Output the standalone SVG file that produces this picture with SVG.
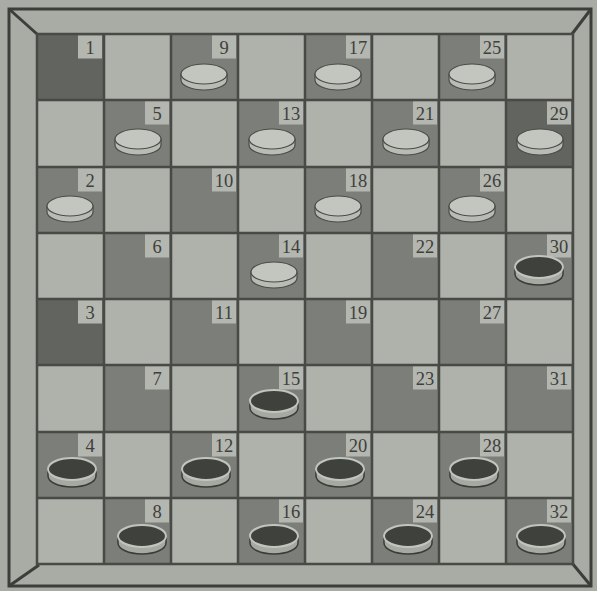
<svg xmlns="http://www.w3.org/2000/svg" xmlns:xlink="http://www.w3.org/1999/xlink" width="597" height="591" viewBox="0 0 597 591">
<defs>
<style>
.bg{fill:#a9aba5}
.light{fill:#afb1ab}
.dark{fill:#7c7e7a}
.darker{fill:#626460}
.frame{fill:none;stroke:#3c3e3a;stroke-width:3}
.grid{fill:none;stroke:#484a46;stroke-width:2.5}
.lb{fill:#b4b6b0}
.num{font-family:"Liberation Serif","Times New Roman",serif;font-size:18.5px;fill:#3e403c;text-anchor:middle}
</style>
<g id="wp">
<path d="M-23,0 v6 a23,10 0 0 0 46,0 v-6 z" fill="#b9bbb5" stroke="#4a4c48" stroke-width="1.2"/>
<ellipse cx="0" cy="0" rx="23" ry="10" fill="#c3c5bf" stroke="#4a4c48" stroke-width="1.2"/>
</g>
<g id="bp">
<path d="M-24,0 v7 a24,11 0 0 0 48,0 v-7 z" fill="#a6a8a2" stroke="#3a3c38" stroke-width="1.5"/>
<ellipse cx="0" cy="0" rx="24" ry="11" fill="#3f413d" stroke="#c2c4be" stroke-width="2"/>
</g>
</defs>
<rect class="bg" x="0" y="0" width="597" height="591"/>
<g id="frame">
<rect class="frame" x="9" y="9" width="582" height="577"/>
<line class="frame" x1="9" y1="9" x2="37" y2="34"/>
<line class="frame" x1="591" y1="9" x2="572" y2="34"/>
<line class="frame" x1="9" y1="586" x2="39" y2="565"/>
<line class="frame" x1="591" y1="586" x2="572" y2="563"/>
</g>
<g id="board">
<rect class="light" x="37" y="34" width="536" height="530"/>
<g id="dark-squares">
<rect class="darker" x="37" y="34" width="67" height="66"/>
<rect class="dark" x="171" y="34" width="67" height="66"/>
<rect class="dark" x="305" y="34" width="67" height="66"/>
<rect class="dark" x="439" y="34" width="67" height="66"/>
<rect class="dark" x="104" y="100" width="67" height="67"/>
<rect class="dark" x="238" y="100" width="67" height="67"/>
<rect class="dark" x="372" y="100" width="67" height="67"/>
<rect class="darker" x="506" y="100" width="67" height="67"/>
<rect class="dark" x="37" y="167" width="67" height="66"/>
<rect class="dark" x="171" y="167" width="67" height="66"/>
<rect class="dark" x="305" y="167" width="67" height="66"/>
<rect class="dark" x="439" y="167" width="67" height="66"/>
<rect class="dark" x="104" y="233" width="67" height="66"/>
<rect class="dark" x="238" y="233" width="67" height="66"/>
<rect class="dark" x="372" y="233" width="67" height="66"/>
<rect class="dark" x="506" y="233" width="67" height="66"/>
<rect class="darker" x="37" y="299" width="67" height="66"/>
<rect class="dark" x="171" y="299" width="67" height="66"/>
<rect class="dark" x="305" y="299" width="67" height="66"/>
<rect class="dark" x="439" y="299" width="67" height="66"/>
<rect class="dark" x="104" y="365" width="67" height="67"/>
<rect class="dark" x="238" y="365" width="67" height="67"/>
<rect class="dark" x="372" y="365" width="67" height="67"/>
<rect class="dark" x="506" y="365" width="67" height="67"/>
<rect class="dark" x="37" y="432" width="67" height="66"/>
<rect class="dark" x="171" y="432" width="67" height="66"/>
<rect class="dark" x="305" y="432" width="67" height="66"/>
<rect class="dark" x="439" y="432" width="67" height="66"/>
<rect class="dark" x="104" y="498" width="67" height="66"/>
<rect class="dark" x="238" y="498" width="67" height="66"/>
<rect class="dark" x="372" y="498" width="67" height="66"/>
<rect class="dark" x="506" y="498" width="67" height="66"/>
</g>
<g id="grid">
<rect class="grid" x="37" y="34" width="536" height="530"/>
<path class="grid" d="M104,34V564M171,34V564M238,34V564M305,34V564M372,34V564M439,34V564M506,34V564M37,100H573M37,167H573M37,233H573M37,299H573M37,365H573M37,432H573M37,498H573"/>
</g>
</g>
<g id="labels">
<g id="sq1"><rect class="lb" x="78" y="35.5" width="24" height="23"/><text class="num" x="90" y="53.5">1</text></g>
<g id="sq2"><rect class="lb" x="78" y="168.5" width="24" height="23"/><text class="num" x="90" y="186.5">2</text></g>
<g id="sq3"><rect class="lb" x="78" y="300.5" width="24" height="23"/><text class="num" x="90" y="318.5">3</text></g>
<g id="sq4"><rect class="lb" x="78" y="433.5" width="24" height="23"/><text class="num" x="90" y="451.5">4</text></g>
<g id="sq5"><rect class="lb" x="145" y="101.5" width="24" height="23"/><text class="num" x="157" y="119.5">5</text></g>
<g id="sq6"><rect class="lb" x="145" y="234.5" width="24" height="23"/><text class="num" x="157" y="252.5">6</text></g>
<g id="sq7"><rect class="lb" x="145" y="366.5" width="24" height="23"/><text class="num" x="157" y="384.5">7</text></g>
<g id="sq8"><rect class="lb" x="145" y="499.5" width="24" height="23"/><text class="num" x="157" y="517.5">8</text></g>
<g id="sq9"><rect class="lb" x="212" y="35.5" width="24" height="23"/><text class="num" x="224" y="53.5">9</text></g>
<g id="sq10"><rect class="lb" x="212" y="168.5" width="24" height="23"/><text class="num" x="224" y="186.5">10</text></g>
<g id="sq11"><rect class="lb" x="212" y="300.5" width="24" height="23"/><text class="num" x="224" y="318.5">11</text></g>
<g id="sq12"><rect class="lb" x="212" y="433.5" width="24" height="23"/><text class="num" x="224" y="451.5">12</text></g>
<g id="sq13"><rect class="lb" x="279" y="101.5" width="24" height="23"/><text class="num" x="291" y="119.5">13</text></g>
<g id="sq14"><rect class="lb" x="279" y="234.5" width="24" height="23"/><text class="num" x="291" y="252.5">14</text></g>
<g id="sq15"><rect class="lb" x="279" y="366.5" width="24" height="23"/><text class="num" x="291" y="384.5">15</text></g>
<g id="sq16"><rect class="lb" x="279" y="499.5" width="24" height="23"/><text class="num" x="291" y="517.5">16</text></g>
<g id="sq17"><rect class="lb" x="346" y="35.5" width="24" height="23"/><text class="num" x="358" y="53.5">17</text></g>
<g id="sq18"><rect class="lb" x="346" y="168.5" width="24" height="23"/><text class="num" x="358" y="186.5">18</text></g>
<g id="sq19"><rect class="lb" x="346" y="300.5" width="24" height="23"/><text class="num" x="358" y="318.5">19</text></g>
<g id="sq20"><rect class="lb" x="346" y="433.5" width="24" height="23"/><text class="num" x="358" y="451.5">20</text></g>
<g id="sq21"><rect class="lb" x="413" y="101.5" width="24" height="23"/><text class="num" x="425" y="119.5">21</text></g>
<g id="sq22"><rect class="lb" x="413" y="234.5" width="24" height="23"/><text class="num" x="425" y="252.5">22</text></g>
<g id="sq23"><rect class="lb" x="413" y="366.5" width="24" height="23"/><text class="num" x="425" y="384.5">23</text></g>
<g id="sq24"><rect class="lb" x="413" y="499.5" width="24" height="23"/><text class="num" x="425" y="517.5">24</text></g>
<g id="sq25"><rect class="lb" x="480" y="35.5" width="24" height="23"/><text class="num" x="492" y="53.5">25</text></g>
<g id="sq26"><rect class="lb" x="480" y="168.5" width="24" height="23"/><text class="num" x="492" y="186.5">26</text></g>
<g id="sq27"><rect class="lb" x="480" y="300.5" width="24" height="23"/><text class="num" x="492" y="318.5">27</text></g>
<g id="sq28"><rect class="lb" x="480" y="433.5" width="24" height="23"/><text class="num" x="492" y="451.5">28</text></g>
<g id="sq29"><rect class="lb" x="547" y="101.5" width="24" height="23"/><text class="num" x="559" y="119.5">29</text></g>
<g id="sq30"><rect class="lb" x="547" y="234.5" width="24" height="23"/><text class="num" x="559" y="252.5">30</text></g>
<g id="sq31"><rect class="lb" x="547" y="366.5" width="24" height="23"/><text class="num" x="559" y="384.5">31</text></g>
<g id="sq32"><rect class="lb" x="547" y="499.5" width="24" height="23"/><text class="num" x="559" y="517.5">32</text></g>
</g>
<g id="white-pieces">
<use xlink:href="#wp" x="204" y="74"/>
<use xlink:href="#wp" x="338" y="74"/>
<use xlink:href="#wp" x="472" y="74"/>
<use xlink:href="#wp" x="138" y="139"/>
<use xlink:href="#wp" x="272" y="139"/>
<use xlink:href="#wp" x="406" y="139"/>
<use xlink:href="#wp" x="540" y="139"/>
<use xlink:href="#wp" x="70" y="206"/>
<use xlink:href="#wp" x="338" y="206"/>
<use xlink:href="#wp" x="472" y="206"/>
<use xlink:href="#wp" x="274" y="272"/>
</g>
<g id="black-pieces">
<use xlink:href="#bp" x="539" y="267"/>
<use xlink:href="#bp" x="274" y="401"/>
<use xlink:href="#bp" x="72" y="469"/>
<use xlink:href="#bp" x="206" y="469"/>
<use xlink:href="#bp" x="340" y="469"/>
<use xlink:href="#bp" x="474" y="469"/>
<use xlink:href="#bp" x="142" y="536"/>
<use xlink:href="#bp" x="274" y="536"/>
<use xlink:href="#bp" x="408" y="536"/>
<use xlink:href="#bp" x="541" y="536"/>
</g>
</svg>
